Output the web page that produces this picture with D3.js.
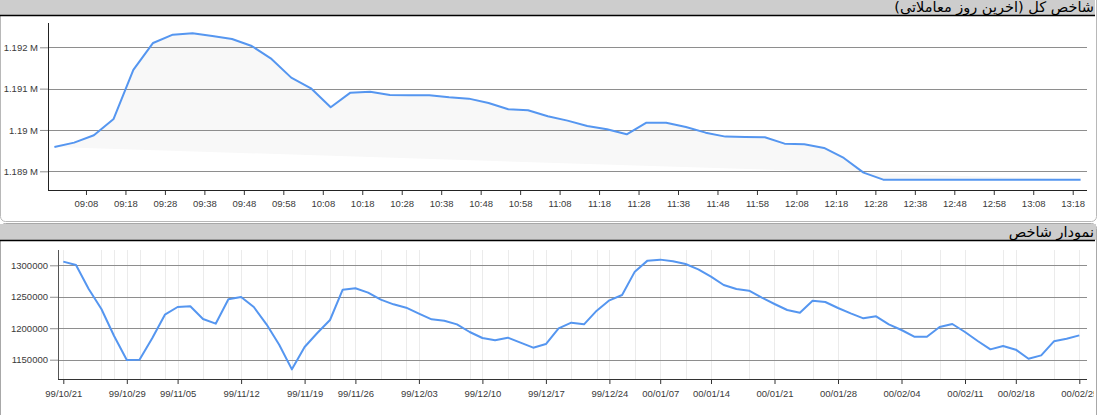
<!DOCTYPE html>
<html><head><meta charset="utf-8">
<script src="https://cdn.jsdelivr.net/npm/d3@7"></script>
<style>body{margin:0;background:#fff;} svg{display:block;}</style>
</head><body>
<script>
// ---------- DATA ----------
const topTitle = "شاخص کل (آخرین روز معاملاتی)";
const bottomTitle = "نمودار شاخص";

const topTimes = ["09:00","09:05","09:10","09:15","09:20","09:25","09:30","09:35","09:40","09:45","09:50","09:55",
  "10:00","10:05","10:10","10:15","10:20","10:25","10:30","10:35","10:40","10:45","10:50","10:55",
  "11:00","11:05","11:10","11:15","11:20","11:25","11:30","11:35","11:40","11:45","11:50","11:55",
  "12:00","12:05","12:10","12:15","12:20","12:25","12:30","12:35","12:40","12:45","12:50","12:55",
  "13:00","13:05","13:10","13:15","13:20"];
const topValues = [1189589,1189694,1189871,1190266,1191452,1192105,1192306,1192339,1192274,1192202,1192032,1191718,
  1191266,1191008,1190548,1190903,1190927,1190847,1190839,1190839,1190790,1190758,1190653,1190500,
  1190476,1190331,1190226,1190097,1190016,1189895,1190177,1190177,1190073,1189935,1189839,1189831,
  1189823,1189669,1189653,1189565,1189323,1188968,1188798,1188798,1188798,1188798,1188798,1188798,
  1188798,1188798,1188798,1188798,1188798];
const topTickLabels = ["09:08","09:18","09:28","09:38","09:48","09:58","10:08","10:18","10:28","10:38","10:48","10:58",
  "11:08","11:18","11:28","11:38","11:48","11:58","12:08","12:18","12:28","12:38","12:48","12:58","13:08","13:18"];
const topYTicks = [1189000,1190000,1191000,1192000];
const topYLabels = ["1.189 M","1.19 M","1.191 M","1.192 M"];

const bottomValues = [1305830,1300530,1262370,1230570,1187640,1149480,1150000,1183930,1221560,1233750,
  1234810,1214670,1207250,1245940,1249650,1233750,1206190,1173860,1134640,1170150,
  1192410,1213080,1261310,1263430,1256540,1245410,1237990,1232690,1223150,1214140,
  1212020,1206190,1194000,1184460,1180750,1184990,1177040,1169090,1174920,1199830,
  1208840,1206190,1227920,1244350,1252830,1289930,1307420,1309010,1306360,1302120,
  1293640,1281980,1268730,1262370,1259720,1248590,1238520,1228980,1224740,1243820,
  1241700,1232160,1223680,1215730,1218910,1206190,1197180,1186580,1186580,1201950,
  1206720,1194000,1179690,1166440,1171740,1165910,1151600,1156900,1179160,1183400,
  1188700];
const bottomTickIndex = [0,5,9,14,19,23,28,33,38,43,47,51,56,61,66,71,75,80];
const bottomTickLabels = ["99/10/21","99/10/29","99/11/05","99/11/12","99/11/19","99/11/26","99/12/03","99/12/10",
  "99/12/17","99/12/24","00/01/07","00/01/14","00/01/21","00/01/28","00/02/04","00/02/11","00/02/18","00/02/25"];
const bottomMinorGrid = [3,4,6,8,11,13,16,18,21,22,25,27,32,35,37,40,42,45,49,54,59,64,69,74,78];
const bottomYTicks = [1150000,1200000,1250000,1300000];

// ---------- DRAW ----------
const W = 1103, H = 415;
const svg = d3.select("body").append("svg").attr("width", W).attr("height", H);
const tickFont = "'Liberation Sans', Arial, sans-serif";
const titleFont = "'DejaVu Sans', sans-serif";
const lineColor = "#5596f0";

// panels
svg.append("rect").attr("x", 0.5).attr("y", -8).attr("width", 1096).attr("height", 229.5)
  .attr("rx", 5).attr("fill", "#fff").attr("stroke", "#b8b8b8");
svg.append("rect").attr("x", 0).attr("y", 0).attr("width", 1095).attr("height", 15).attr("fill", "#cdcdcd");
svg.append("line").attr("x1", 0).attr("x2", 1095).attr("y1", 15.5).attr("y2", 15.5).attr("stroke", "#000").attr("stroke-width", 1.4);
svg.append("text").attr("x", 1094).attr("y", 12).attr("direction", "rtl").attr("text-anchor", "start")
  .attr("font-family", titleFont).attr("font-size", 14.5).attr("fill", "#000").text(topTitle);

svg.append("rect").attr("x", 0.5).attr("y", 223.5).attr("width", 1096).attr("height", 200)
  .attr("rx", 5).attr("fill", "#fff").attr("stroke", "#a8a8a8");
svg.append("rect").attr("x", 0).attr("y", 224).attr("width", 1096).attr("height", 16).attr("fill", "#cdcdcd");
svg.append("line").attr("x1", 0).attr("x2", 1095).attr("y1", 240.5).attr("y2", 240.5).attr("stroke", "#000").attr("stroke-width", 1.4);
svg.append("text").attr("x", 1094).attr("y", 237).attr("direction", "rtl").attr("text-anchor", "start")
  .attr("font-family", titleFont).attr("font-size", 14.5).attr("fill", "#000").text(bottomTitle);

// ---- top chart ----
const parse = d3.timeParse("%H:%M");
const topData = topTimes.map((t, i) => ({t: parse(t), v: topValues[i]}));
const xTop = d3.scaleTime().domain([parse("09:00"), parse("13:20")]).range([54.4, 1080.6]);
const yTop = d3.scaleLinear().domain([1189000, 1192000]).range([171.3, 47.3]);
const tL = 48, tR = 1087, tT = 23, tB = 190;

const topLine = d3.line().x(d => xTop(d.t)).y(d => yTop(d.v));
svg.append("path").datum(topData).attr("d", topLine).attr("fill", "#f8f8f8").attr("stroke", "none");

const gTop = svg.append("g");
gTop.selectAll("line.grid").data(topYTicks).join("line")
  .attr("x1", tL).attr("x2", tR)
  .attr("y1", d => Math.round(yTop(d)) + 0.5).attr("y2", d => Math.round(yTop(d)) + 0.5)
  .attr("stroke", "#8e8e8e");

const yAxTop = svg.append("g").attr("transform", `translate(${tL},0)`)
  .call(d3.axisLeft(yTop).tickValues(topYTicks).tickFormat((d, i) => topYLabels[i]).tickSize(8).tickPadding(2));
yAxTop.select(".domain").remove();
yAxTop.selectAll(".tick line").attr("stroke", "#8e8e8e");
yAxTop.selectAll("text").attr("font-family", tickFont).attr("font-size", 9.5).attr("fill", "#3a3a3a");

const xAxTop = svg.append("g").attr("transform", `translate(0,${tB})`)
  .call(d3.axisBottom(xTop).tickValues(topTickLabels.map(parse)).tickFormat(d3.timeFormat("%H:%M")).tickSize(5).tickPadding(5));
xAxTop.select(".domain").remove();
xAxTop.selectAll(".tick line").attr("stroke", "#333");
xAxTop.selectAll("text").attr("font-family", tickFont).attr("font-size", 9.5).attr("fill", "#3a3a3a");

svg.append("line").attr("x1", tL + 0.5).attr("x2", tL + 0.5).attr("y1", tT).attr("y2", tB).attr("stroke", "#222");
svg.append("line").attr("x1", tL).attr("x2", tR).attr("y1", tB + 0.5).attr("y2", tB + 0.5).attr("stroke", "#222");

svg.append("path").datum(topData).attr("d", topLine).attr("fill", "none")
  .attr("stroke", lineColor).attr("stroke-width", 2).attr("stroke-linejoin", "round");

// ---- bottom chart ----
const clip = svg.append("defs").append("clipPath").attr("id", "botclip");
clip.append("rect").attr("x", 0).attr("y", 241).attr("width", 1094).attr("height", 180);
const gB = svg.append("g").attr("clip-path", "url(#botclip)");

const xBot = d3.scaleLinear().domain([0, 80]).range([63.3, 1079.3]);
const yBot = d3.scaleLinear().domain([1150000, 1300000]).range([359.7, 265.3]);
const bL = 58, bR = 1087, bT = 250, bB = 379;

const vGrid = bottomMinorGrid.concat(bottomTickIndex);
gB.selectAll("line.vgrid").data(vGrid).join("line")
  .attr("x1", d => Math.round(xBot(d)) + 0.5).attr("x2", d => Math.round(xBot(d)) + 0.5)
  .attr("y1", bT).attr("y2", bB).attr("stroke", "#ebebeb");

gB.selectAll("line.hgrid").data(bottomYTicks).join("line")
  .attr("x1", bL).attr("x2", bR)
  .attr("y1", d => Math.round(yBot(d)) + 0.5).attr("y2", d => Math.round(yBot(d)) + 0.5)
  .attr("stroke", "#8e8e8e");

const yAxB = gB.append("g").attr("transform", `translate(${bL},0)`)
  .call(d3.axisLeft(yBot).tickValues(bottomYTicks).tickFormat(d3.format("d")).tickSize(8).tickPadding(2));
yAxB.select(".domain").remove();
yAxB.selectAll(".tick line").attr("stroke", "#8e8e8e");
yAxB.selectAll("text").attr("font-family", tickFont).attr("font-size", 9.5).attr("fill", "#3a3a3a");

const xAxB = gB.append("g").attr("transform", `translate(0,${bB})`)
  .call(d3.axisBottom(xBot).tickValues(bottomTickIndex).tickFormat((d, i) => bottomTickLabels[i]).tickSize(5).tickPadding(6));
xAxB.select(".domain").remove();
xAxB.selectAll(".tick line").attr("stroke", "#333");
xAxB.selectAll("text").attr("font-family", tickFont).attr("font-size", 9.5).attr("fill", "#3a3a3a");

gB.append("line").attr("x1", bL + 0.5).attr("x2", bL + 0.5).attr("y1", bT).attr("y2", bB).attr("stroke", "#555");
gB.append("line").attr("x1", bL).attr("x2", bR).attr("y1", bB + 0.5).attr("y2", bB + 0.5).attr("stroke", "#333");

const botLine = d3.line().x((d, i) => xBot(i)).y(d => yBot(d));
gB.append("path").datum(bottomValues).attr("d", botLine).attr("fill", "none")
  .attr("stroke", lineColor).attr("stroke-width", 2).attr("stroke-linejoin", "round");
</script>
</body></html>
